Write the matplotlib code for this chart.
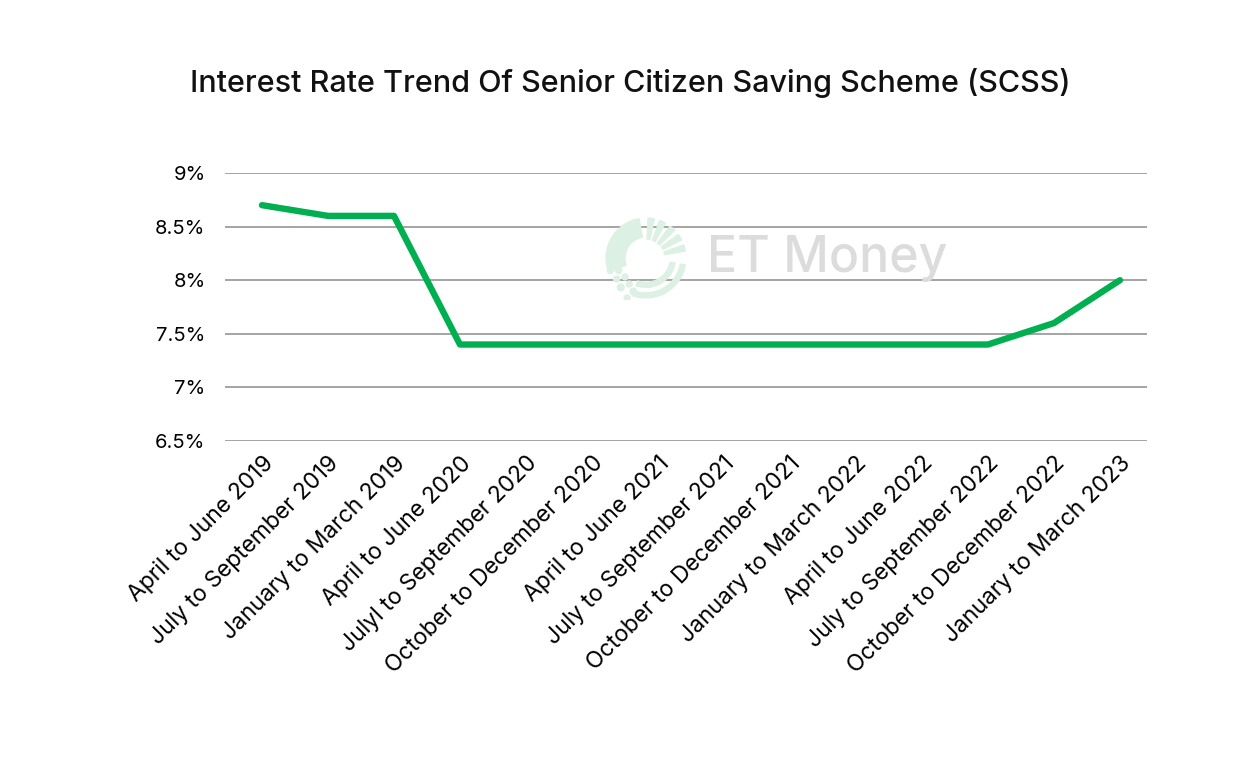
import matplotlib
matplotlib.use("Agg")
import matplotlib.pyplot as plt
from matplotlib.patches import Wedge, Circle

categories = [
    "April to June 2019", "July to September 2019", "January to March 2019",
    "April to June 2020", "Julyl to September 2020", "October to December 2020",
    "April to June 2021", "July to September 2021", "October to December 2021",
    "January to March 2022", "April to June 2022", "July to September 2022",
    "October to December 2022", "January to March 2023",
]
rates = [8.7, 8.6, 8.6, 7.4, 7.4, 7.4, 7.4, 7.4, 7.4, 7.4, 7.4, 7.4, 7.6, 8.0]
y_ticks = [6.5, 7.0, 7.5, 8.0, 8.5, 9.0]
y_labels = ["6.5%", "7%", "7.5%", "8%", "8.5%", "9%"]

plt.rcParams['font.family'] = ['Inter', 'DejaVu Sans']

fig = plt.figure(figsize=(12.6, 7.61), dpi=100)
ax = fig.add_axes([225/1260, 1-441/761, (1147-225)/1260, (441-173)/761])

# watermark
fig.text(827/1260, 1-258/761, "ET Money", fontsize=36, color="#dcdcdc",
         ha="center", va="center", fontweight="medium", zorder=0)
wax = fig.add_axes([602/1260, 1-300/761, 88/1260, 84/761])
wax.set_xlim(-1, 1); wax.set_ylim(-1, 1); wax.set_aspect('equal'); wax.axis('off')
lg = "#dcf0e4"
wax.add_patch(Wedge((0, 0), 0.95, 100, 200, width=0.45, color=lg))
for a0 in range(10, 95, 17):
    wax.add_patch(Wedge((0, 0), 0.95, a0, a0 + 9, width=0.5, color=lg))
wax.add_patch(Wedge((0, 0), 0.95, 250, 350, width=0.12, color=lg))
wax.add_patch(Wedge((0, 0), 0.70, 250, 350, width=0.12, color=lg))
for (px, py, r) in [(-0.85, -0.3, 0.07), (-0.65, -0.3, 0.07), (-0.5, -0.45, 0.07),
                    (-0.7, -0.5, 0.07), (-0.4, -0.62, 0.07), (-0.6, -0.7, 0.08),
                    (-0.3, -0.8, 0.08), (-0.45, -0.95, 0.07)]:
    wax.add_patch(Circle((px, py), r, color=lg))

x = list(range(len(categories)))
ax.plot(x, rates, color="#00B050", linewidth=4.6, solid_capstyle="round",
        solid_joinstyle="round", zorder=3)

ax.set_ylim(6.5, 9.0)
ax.set_xlim(-0.56, len(categories) - 1 + 0.41)
ax.set_yticks(y_ticks)
ax.set_yticklabels(y_labels, fontsize=14.5)
ax.set_xticks(x)
ax.set_xticklabels(categories, rotation=45, ha="right", rotation_mode="anchor",
                   fontsize=16.5)
ax.tick_params(length=0, pad=8)
ax.tick_params(axis='y', pad=14)
ax.grid(axis='y', color="#8c8c8c", linewidth=1.1)
ax.set_axisbelow(True)
for s in ax.spines.values():
    s.set_visible(False)
ax.patch.set_alpha(0)

fig.text(630/1260, 1-83/761, "Interest Rate Trend Of Senior Citizen Saving Scheme (SCSS)",
         ha="center", va="center", fontsize=22, fontweight="medium", color="#111111")

fig.savefig("out.png", dpi=100, facecolor="white")
